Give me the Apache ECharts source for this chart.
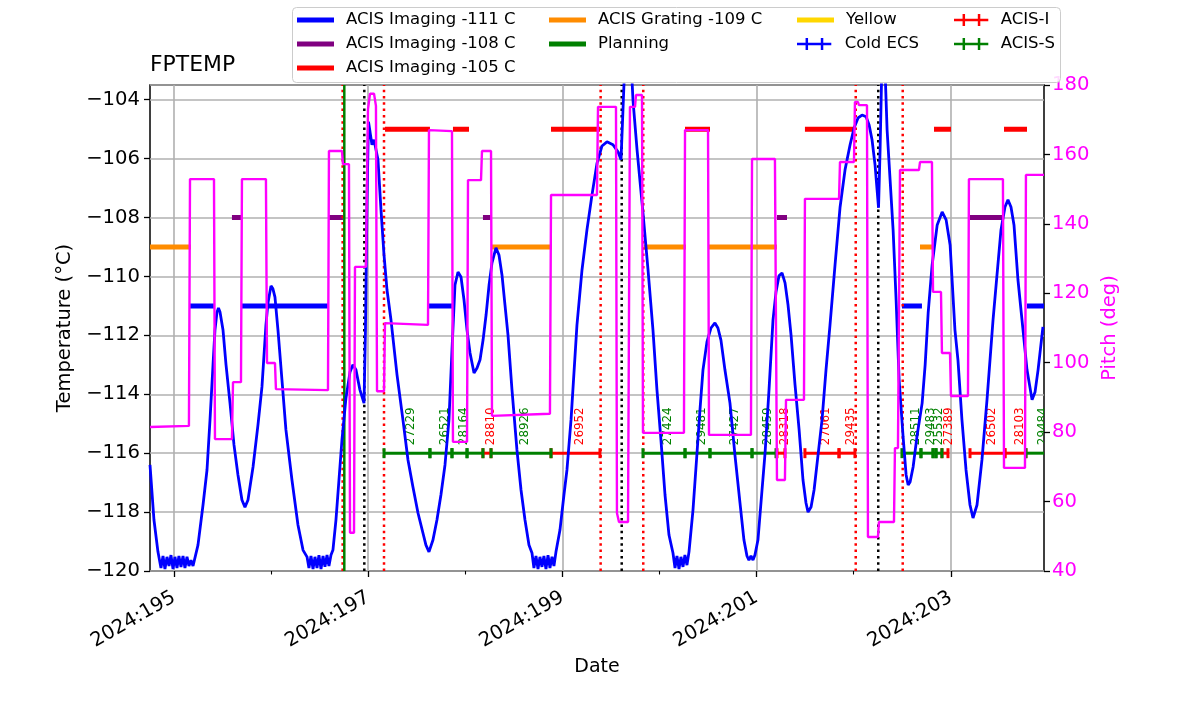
<!DOCTYPE html>
<html><head><meta charset="utf-8">
<script src="https://cdn.jsdelivr.net/npm/echarts@6/dist/echarts.min.js"></script>
<style>html,body{margin:0;padding:0;background:#fff}#c{width:1200px;height:714px}</style>
</head><body><div id="c"></div>
<script>
// ---- Temperature (FPTEMP, deg C) ----
const tempTime = [
194.753,194.794,194.835,194.866,194.887,194.907,194.928,194.949,194.969,194.990,195.010,195.031,195.051,195.072,195.093,195.113,195.134,195.154,195.175,195.196,
195.247,195.299,195.340,195.371,195.402,195.422,195.443,195.458,195.474,195.505,195.536,195.577,195.618,195.659,195.700,195.731,195.762,195.814,195.865,195.906,195.947,195.968,195.999,196.019,196.040,196.071,196.112,196.153,196.215,196.277,196.329,196.370,
196.390,196.411,196.432,196.452,196.473,196.493,196.514,196.535,196.555,196.576,196.596,196.617,196.637,
196.668,196.699,196.730,196.771,196.813,196.843,196.874,196.915,196.957,196.972,196.988,197.003,197.019,197.039,197.060,197.080,197.101,197.132,197.163,197.194,197.235,197.297,197.358,197.410,197.461,197.513,197.564,197.595,197.626,197.667,197.708,197.749,197.791,197.832,197.863,197.894,197.925,197.956,197.987,198.018,198.049,198.090,198.121,198.152,198.183,198.214,198.245,198.275,198.316,198.347,198.378,198.409,198.440,198.481,198.532,198.574,198.615,198.656,198.687,
198.707,198.728,198.749,198.769,198.790,198.810,198.831,198.852,198.872,198.893,198.913,198.934,
198.975,199.016,199.047,199.089,199.150,199.202,199.253,199.305,199.357,199.408,199.459,199.521,199.573,199.604,199.624,199.644,199.676,199.707,199.727,199.769,199.830,199.882,199.933,199.974,200.015,200.057,200.098,200.139,
200.160,200.180,200.201,200.221,200.242,200.262,200.283,200.304,
200.345,200.386,200.417,200.448,200.489,200.530,200.571,200.602,200.633,200.674,200.726,200.777,200.829,200.870,200.901,200.921,200.942,200.963,200.983,201.014,201.056,201.087,201.128,201.169,201.200,201.231,201.262,201.293,201.324,201.355,201.396,201.438,201.478,201.509,201.530,201.561,201.592,201.633,201.674,201.715,201.756,201.808,201.860,201.911,201.963,202.004,202.045,202.086,202.128,202.159,202.189,202.220,202.241,202.256,202.272,202.287,202.302,202.323,202.344,202.375,202.406,202.437,202.468,202.509,202.540,202.561,202.581,202.612,202.654,202.705,202.736,202.767,202.808,202.860,202.911,202.952,202.993,203.043,203.074,203.115,203.157,203.198,203.229,203.270,203.321,203.373,203.435,203.476,203.517,203.558,203.589,203.620,203.651,203.692,203.744,203.785,203.837,203.868,203.899,203.949
];
const tempC = [
-116.40,-118.27,-119.35,-119.90,-119.49,-119.93,-119.52,-119.83,-119.46,-119.93,-119.52,-119.90,-119.49,-119.86,-119.49,-119.90,-119.52,-119.83,-119.63,-119.83,
-119.12,-117.76,-116.57,-114.87,-113.00,-111.82,-111.21,-111.07,-111.21,-111.82,-113.00,-114.30,-115.72,-116.74,-117.59,-117.83,-117.59,-116.47,-115.04,-113.75,-111.65,-110.90,-110.32,-110.42,-110.70,-111.82,-113.51,-115.21,-116.91,-118.44,-119.29,-119.52,
-119.90,-119.49,-119.93,-119.52,-119.90,-119.46,-119.93,-119.49,-119.86,-119.46,-119.83,-119.46,-119.29,
-118.27,-116.91,-115.55,-114.13,-113.24,-113.00,-113.17,-113.85,-114.30,-111.82,-107.40,-104.75,-105.09,-105.53,-105.36,-105.36,-106.04,-107.74,-109.27,-110.46,-111.48,-113.34,-114.87,-116.23,-117.15,-118.03,-118.71,-119.12,-119.35,-118.95,-118.27,-117.42,-116.40,-114.87,-112.50,-110.29,-109.85,-110.02,-110.80,-111.82,-112.60,-113.28,-113.11,-112.83,-112.16,-111.31,-110.29,-109.54,-109.03,-109.27,-109.95,-110.97,-111.99,-113.85,-115.89,-117.25,-118.27,-119.12,-119.39,
-119.90,-119.49,-119.93,-119.52,-119.86,-119.49,-119.93,-119.46,-119.90,-119.52,-119.83,-119.35,
-118.61,-117.42,-116.57,-114.87,-111.65,-109.78,-108.42,-107.23,-106.15,-105.57,-105.43,-105.53,-105.77,-106.04,-104.35,-102.65,-101.97,-102.65,-104.01,-105.70,-107.84,-109.78,-111.82,-113.85,-115.55,-117.42,-118.78,-119.39,
-119.90,-119.49,-119.93,-119.52,-119.86,-119.46,-119.80,-119.35,
-117.93,-116.01,-114.53,-113.17,-112.22,-111.75,-111.58,-111.75,-112.16,-113.17,-114.30,-116.06,-117.69,-118.95,-119.49,-119.63,-119.49,-119.63,-119.46,-118.95,-117.25,-116.01,-113.85,-111.48,-110.53,-109.98,-109.88,-110.22,-110.97,-111.99,-113.68,-115.21,-116.91,-117.69,-118.00,-117.83,-117.25,-116.06,-114.87,-113.17,-111.65,-109.61,-107.64,-106.38,-105.53,-104.96,-104.62,-104.52,-104.58,-104.86,-105.36,-106.21,-107.06,-107.67,-105.70,-103.33,-102.14,-102.99,-105.02,-106.72,-108.42,-110.80,-113.51,-115.45,-116.74,-117.08,-116.98,-116.47,-115.38,-114.30,-113.00,-111.24,-109.61,-108.25,-107.81,-108.08,-108.93,-111.82,-112.84,-114.87,-116.57,-117.76,-118.20,-117.76,-116.23,-114.19,-111.48,-109.95,-108.42,-107.64,-107.40,-107.64,-108.25,-110.12,-111.82,-113.17,-114.19,-113.92,-113.17,-111.71
];

// ---- Pitch (deg) ----
const pitchTime = [194.753,195.154,195.165,195.412,195.422,195.597,195.608,195.690,195.700,195.947,195.958,196.040,196.050,196.586,196.596,196.730,196.740,196.802,196.813,196.854,196.864,196.977,196.998,197.019,197.060,197.080,197.091,197.163,197.173,197.616,197.626,197.863,197.873,198.018,198.028,198.162,198.172,198.265,198.275,198.872,198.883,199.356,199.367,199.552,199.562,199.583,199.676,199.696,199.748,199.758,199.820,199.830,200.252,200.263,200.500,200.510,200.942,200.953,201.189,201.210,201.292,201.303,201.488,201.498,201.849,201.859,202.003,202.013,202.044,202.054,202.137,202.147,202.250,202.260,202.415,202.425,202.456,202.477,202.672,202.683,202.806,202.817,202.899,202.909,202.992,203.002,203.177,203.187,203.537,203.548,203.764,203.774,203.960];
const pitchDeg = [81.5,81.8,152.9,152.9,78.0,78.0,94.4,94.4,152.9,152.9,99.9,99.9,92.4,92.1,161.0,161.0,157.2,157.2,51.0,51.0,127.6,127.6,173.0,177.5,177.5,174.0,91.8,91.8,111.4,110.9,167.0,166.7,77.2,77.2,152.6,152.6,161.0,161.0,84.7,85.3,148.3,148.3,173.7,173.7,56.7,54.1,54.1,173.7,173.7,177.1,177.1,79.8,79.8,167.0,167.0,79.2,79.2,158.7,158.7,66.2,66.2,89.3,89.3,147.2,147.2,157.8,157.8,175.1,175.1,174.2,174.2,49.8,49.8,54.1,54.1,75.4,75.4,155.5,155.5,157.8,157.8,120.4,120.4,102.8,102.8,90.4,90.4,152.9,152.9,69.7,69.7,154.1,154.1];

// ---- Limit intervals ----
const lim111Start = [195.165,195.700,197.626,202.497,203.785];
const lim111End   = [195.422,196.586,197.873,202.703,203.960];
const lim108Start = [195.597,196.586,198.182,201.210,203.198];
const lim108End   = [195.700,196.740,198.275,201.313,203.548];
const lim105Start = [197.173,197.873,198.883,200.263,201.498,202.827,203.548];
const lim105End   = [197.636,198.038,199.387,200.520,202.013,203.002,203.785];
const lim109Start = [194.753,198.275,199.840,200.510,202.683];
const lim109End   = [195.175,198.893,200.273,201.210,202.817];

// ---- Vertical markers ----
const planningTimes = [196.754];
const redDottedTimes = [196.737,197.163,199.394,199.833,202.021,202.505];
const blackDottedTimes = [196.960,199.611,202.253];

// ---- Observations ----
const obsId    = ['27229','26521','28164','','28810','28926','26952','27424','29481','27427','28459','28318','27061','29435','28511','29483','25532','','27389','26502','28103','29484'];
const obsStart = [197.163,197.636,197.863,198.018,198.182,198.265,198.883,199.830,200.263,200.520,200.953,201.210,201.498,201.849,202.497,202.693,202.817,202.848,202.909,203.198,203.558,203.774];
const obsStop  = [197.636,197.863,198.018,198.182,198.265,198.883,199.387,200.263,200.520,200.953,201.200,201.292,201.849,202.013,202.693,202.817,202.848,202.909,202.971,203.558,203.774,204.032];
const obsInst  = ['S','S','S','S','I','S','I','S','S','S','S','I','I','I','S','S','S','S','I','I','I','S'];
const obsLevel = -116;

// ---- Axes ----
const xMin = 194.753, xMax = 203.96;
const yMin = -120, yMax = -103.5;
const majorDays = [195,197,199,201,203];
const minorDays = [196,198,200,202];

const FONT = 'DejaVu Sans';
const TICK_FS = 19.6;
function zip(a,b){return a.map((v,i)=>[v,b[i]]);}
function segs(starts, ends, level){const o=[];starts.forEach((s,i)=>{o.push([s,level],[ends[i],level],[ends[i],'-']);});return o;}
function vlines(xs){const o=[];xs.forEach(x=>{o.push([x,yMin],[x,yMax],[x,'-']);});return o;}
function limitSeries(name,color,data){
  return {name,type:'line',data,symbol:'none',color,lineStyle:{color,width:5},connectNulls:false,z:2,silent:true,animation:false};
}
function obsSeries(name, inst, color){
  const rows=[];
  obsId.forEach((id,i)=>{if(obsInst[i]===inst) rows.push([obsStart[i],obsStop[i],obsLevel,i]);});
  return {
    name,type:'custom',clip:true,z:4,silent:true,itemStyle:{color},
    encode:{x:[0,1],y:2},
    data:rows.map(r=>[r[0],r[1],r[2]]),
    renderItem(params,api){
      const s=api.coord([api.value(0),api.value(2)]);
      const e=api.coord([api.value(1),api.value(2)]);
      const label=obsId[rows[params.dataIndex][3]];
      const cap=5;
      const st={stroke:color,lineWidth:3};
      const ch=[
        {type:'line',shape:{x1:s[0],y1:s[1],x2:e[0],y2:e[1]},style:st},
        {type:'line',shape:{x1:s[0],y1:s[1]-cap,x2:s[0],y2:s[1]+cap},style:st},
        {type:'line',shape:{x1:e[0],y1:e[1]-cap,x2:e[0],y2:e[1]+cap},style:st}
      ];
      if(label){
        ch.push({type:'text',x:(s[0]+e[0])/2+4,y:s[1]-8,rotation:Math.PI/2,
          style:{text:label,fill:color,font:'11.9px "DejaVu Sans"',align:'left',verticalAlign:'middle'}});
      }
      return {type:'group',children:ch};
    }
  };
}
const capIcon='path://M0,5h36v2.6h-36z M9,0h2.6v12.6h-2.6z M25,0h2.6v12.6h-2.6z';
const legendText={fontFamily:FONT,fontSize:16.5,color:'#000',lineHeight:20,padding:[0,0,0,7]};
const legendBase={orient:'vertical',top:10,itemGap:4,padding:0,selectedMode:false,textStyle:legendText,z:20};

const chart=echarts.init(document.getElementById('c'),null,{renderer:'canvas'});
chart.setOption({
  animation:false,
  backgroundColor:'#fff',
  textStyle:{fontFamily:FONT},
  title:{text:'FPTEMP',left:150,top:54,padding:0,textStyle:{fontFamily:FONT,fontSize:21.9,fontWeight:'normal',color:'#000'}},
  graphic:[{type:'rect',left:292,top:7,shape:{width:768,height:75,r:4},style:{fill:'rgba(255,255,255,0.85)',stroke:'#cccccc',lineWidth:1},z:15}],
  legend:[
    Object.assign({},legendBase,{left:297,itemWidth:37,itemHeight:5,icon:'rect',data:['ACIS Imaging -111 C','ACIS Imaging -108 C','ACIS Imaging -105 C']}),
    Object.assign({},legendBase,{left:549,itemWidth:37,itemHeight:5,icon:'rect',data:['ACIS Grating -109 C','Planning']}),
    Object.assign({},legendBase,{left:797,itemWidth:37,itemHeight:5,icon:'rect',data:['Yellow']}),
    Object.assign({},legendBase,{left:797,top:34,itemWidth:37,itemHeight:12,icon:capIcon,data:['Cold ECS']}),
    Object.assign({},legendBase,{left:954,itemWidth:35,itemHeight:12,icon:capIcon,data:['ACIS-I','ACIS-S']})
  ],
  grid:{left:150,right:156,top:85,bottom:143,show:true,borderColor:'#000',borderWidth:1.5,backgroundColor:'transparent'},
  xAxis:[
    {type:'value',min:xMin,max:xMax,position:'bottom',name:'Date',nameLocation:'middle',nameGap:83,
     nameTextStyle:{fontFamily:FONT,fontSize:19,color:'#000'},
     axisLine:{show:false},
     axisTick:{show:true,customValues:majorDays,length:6,lineStyle:{color:'#000',width:1.3}},
     axisLabel:{customValues:majorDays,rotate:30,margin:25,fontFamily:FONT,fontSize:TICK_FS,color:'#000',formatter:v=>'2024:'+v},
     splitLine:{show:true,lineStyle:{color:'#b0b0b0',width:1.6}}},
    {type:'value',min:xMin,max:xMax,position:'bottom',
     axisLine:{show:false},
     axisTick:{show:true,customValues:minorDays,length:3.5,lineStyle:{color:'#000',width:1.1}},
     axisLabel:{show:false},splitLine:{show:false}}
  ],
  yAxis:[
    {type:'value',min:yMin,max:yMax,interval:2,position:'left',name:'Temperature (°C)',nameLocation:'middle',nameGap:71,
     nameTextStyle:{fontFamily:FONT,fontSize:19.5,color:'#000'},
     axisLine:{show:false},
     axisTick:{show:true,length:6,lineStyle:{color:'#000',width:1.3}},
     axisLabel:{showMaxLabel:false,margin:10,fontFamily:FONT,fontSize:TICK_FS,color:'#000',formatter:v=>String(v).replace('-','\u2212')},
     splitLine:{show:true,lineStyle:{color:'#b0b0b0',width:1.6}}},
    {type:'value',min:40,max:180,interval:20,position:'right',name:'Pitch (deg)',nameLocation:'middle',nameGap:53,
     nameTextStyle:{fontFamily:FONT,fontSize:19.5,color:'#ff00ff'},
     axisLine:{show:false},
     axisTick:{show:true,length:6,lineStyle:{color:'#000',width:1.3}},
     axisLabel:{margin:8,fontFamily:FONT,fontSize:TICK_FS,color:'#ff00ff'},
     splitLine:{show:false}}
  ],
  series:[
    limitSeries('ACIS Imaging -111 C','#0000ff',segs(lim111Start,lim111End,-111)),
    limitSeries('ACIS Imaging -108 C','#800080',segs(lim108Start,lim108End,-108)),
    limitSeries('ACIS Imaging -105 C','#ff0000',segs(lim105Start,lim105End,-105)),
    limitSeries('ACIS Grating -109 C','#ff8c00',segs(lim109Start,lim109End,-109)),
    {name:'Yellow',type:'line',data:[],symbol:'none',color:'#ffd700',lineStyle:{color:'#ffd700',width:5}},
    {name:'red-dotted',type:'line',data:vlines(redDottedTimes),symbol:'none',silent:true,z:3,
     lineStyle:{color:'#ff0000',width:2.5,type:[2.5,3.8]}},
    {name:'black-dotted',type:'line',data:vlines(blackDottedTimes),symbol:'none',silent:true,z:3,
     lineStyle:{color:'#000000',width:2.5,type:[2.5,3.8]}},
    {name:'Planning',type:'line',data:vlines(planningTimes),symbol:'none',silent:true,z:3,color:'#008000',
     lineStyle:{color:'#008000',width:2.5}},
    {name:'Cold ECS',type:'custom',data:[],itemStyle:{color:'#0000ff'},renderItem:()=>null},
    obsSeries('ACIS-I','I','#ff0000'),
    obsSeries('ACIS-S','S','#008000'),
    {name:'FPTEMP',type:'line',data:zip(tempTime,tempC),symbol:'none',z:5,silent:true,
     lineStyle:{color:'#0000ff',width:2.8}},
    {name:'Pitch',type:'line',yAxisIndex:1,data:zip(pitchTime,pitchDeg),symbol:'none',z:6,silent:true,
     lineStyle:{color:'#ff00ff',width:2.4}}
  ]
});
</script></body></html>
